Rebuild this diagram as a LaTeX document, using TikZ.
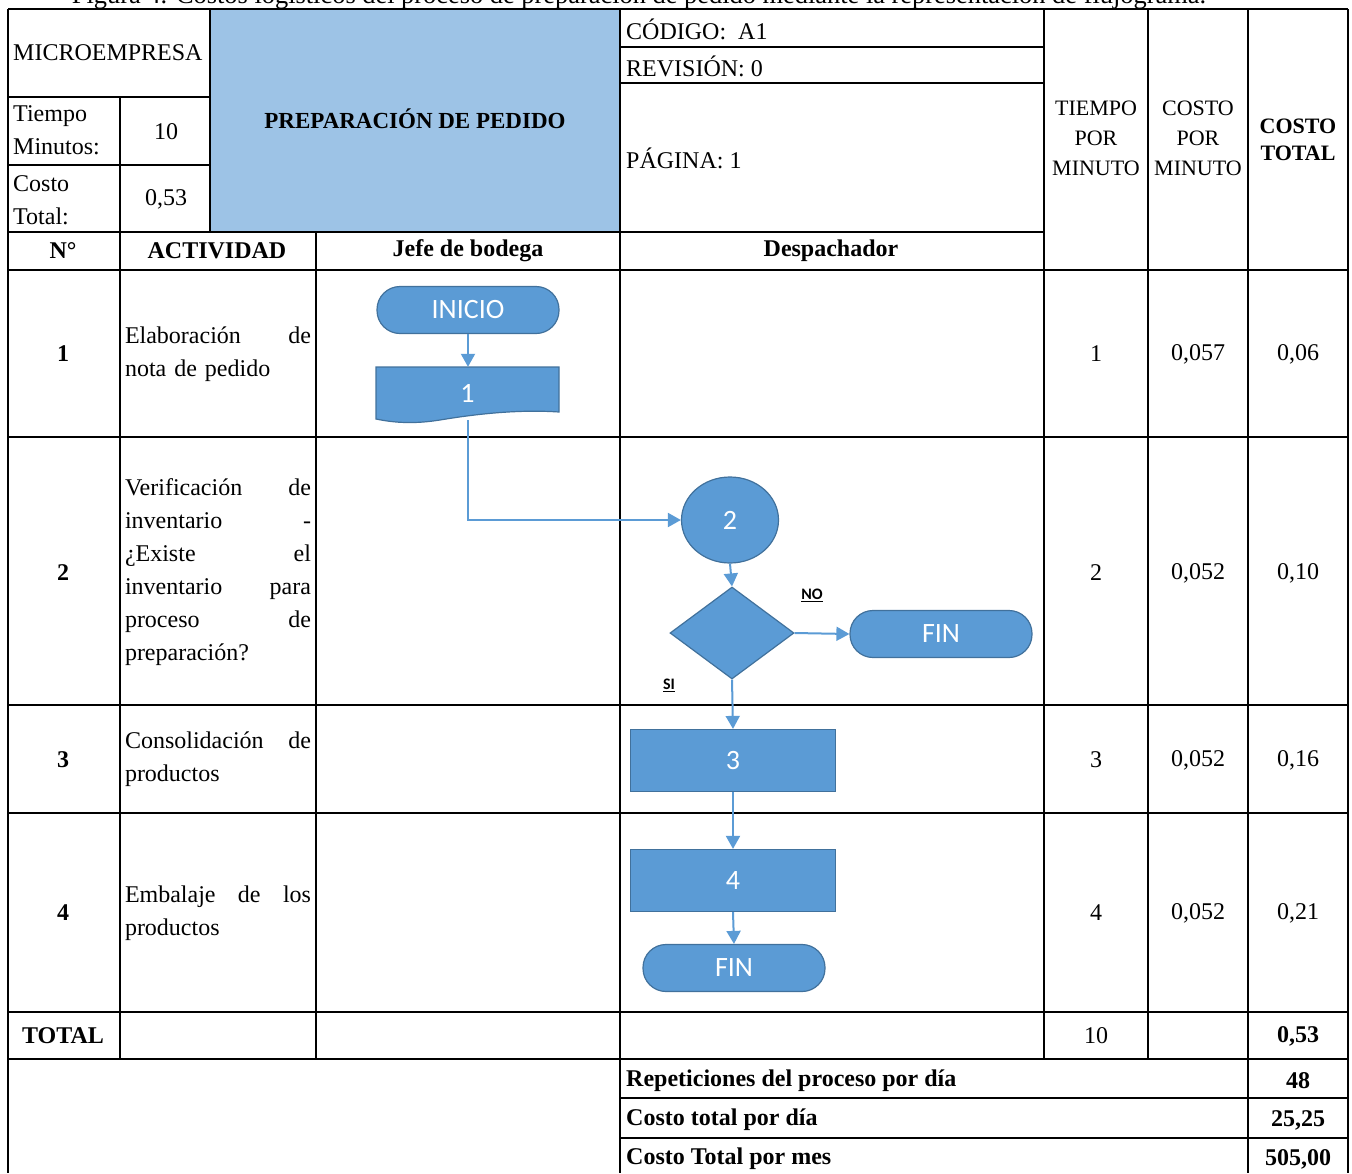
\documentclass[tikz,border=0pt]{standalone}
\usepackage{fontspec}
\setmainfont{Liberation Serif}
\newfontfamily\flowfont{Carlito}
\usetikzlibrary{arrows.meta,shapes.geometric}
\definecolor{flowblue}{HTML}{5B9BD5}
\definecolor{flowedge}{HTML}{41719C}
\definecolor{headblue}{HTML}{9DC3E6}
\tikzset{
  tabline/.style={line width=2.2pt,black},
  txt/.style={inner sep=0pt,font=\fontsize{24}{33}\selectfont},
  boldtxt/.style={inner sep=0pt,font=\fontsize{24}{33}\selectfont\bfseries},
  acttxt/.style={txt,text width=186pt,align=left},
  flowshape/.style={fill=flowblue,draw=flowedge,line width=1.2pt,text=white,
    font=\flowfont\fontsize{28}{30}\selectfont,inner sep=0pt},
  terminal/.style={flowshape,rounded corners=23pt,minimum width=182pt,minimum height=47pt},
  procbox/.style={flowshape,rectangle,minimum width=205pt,minimum height=62pt},
  flowline/.style={draw=flowblue,line width=2pt,-{Triangle[length=13pt,width=14pt]}},
  flowlabel/.style={inner sep=0pt,font=\flowfont\bfseries\fontsize{16}{18}\selectfont}
}
\begin{document}
\begin{tikzpicture}[x=1pt,y=-1pt]
\useasboundingbox (0,0) rectangle (1352,1173);
% caption, cut at the top edge
\node[txt,font=\fontsize{26.4}{30}\selectfont,anchor=base] (cap) at (639,3) {Figura 4. Costos logísticos del proceso de preparación de pedido mediante la representación de flujograma.};

% header block
\fill[headblue] (210,9) rectangle (620,232);
\draw[tabline] (8,9)--(1348,9) (8,9)--(8,1173) (1348,9)--(1348,1173);
\draw[tabline] (8,97)--(210,97) (8,165)--(210,165) (8,232)--(1044,232);
\draw[tabline] (620,47)--(1044,47) (620,83)--(1044,83);
\draw[tabline] (210,9)--(210,232) (120,97)--(120,1059) (316,232)--(316,1059);
\draw[tabline] (620,9)--(620,1173) (1044,9)--(1044,1059) (1148,9)--(1148,1059) (1248,9)--(1248,1173);
\draw[tabline] (8,270)--(1348,270) (8,437)--(1348,437) (8,705)--(1348,705);
\draw[tabline] (8,813)--(1348,813) (8,1012)--(1348,1012) (8,1059)--(1348,1059);
\draw[tabline] (620,1098)--(1348,1098) (620,1138)--(1348,1138);

\node[txt,anchor=west] (micro) at (13,53) {MICROEMPRESA};
\node[txt,anchor=west,align=left] (tmin) at (13,130) {Tiempo\\Minutos:};
\node[txt] (tval) at (166,132) {10};
\node[txt,anchor=west,align=left] (ctot) at (13,200) {Costo\\Total:};
\node[txt] (cval) at (166,199) {0,53};
\node[boldtxt,font=\fontsize{23}{30}\selectfont\bfseries] (title) at (415,119) {PREPARACIÓN DE PEDIDO};
\node[txt,anchor=west] (cod) at (626,29) {CÓDIGO:\ \ A1};
\node[txt,anchor=west] (rev) at (626,66) {REVISIÓN: 0};
\node[txt,anchor=west] (pag) at (626,158) {PÁGINA: 1};
\node[txt,font=\fontsize{22}{30}\selectfont,align=center] (htiempo) at (1096,138) {TIEMPO\\POR\\MINUTO};
\node[txt,font=\fontsize{22}{30}\selectfont,align=center] (hcosto) at (1198,138) {COSTO\\POR\\MINUTO};
\node[boldtxt,font=\fontsize{22}{27}\selectfont\bfseries,align=center] (htotal) at (1298,140) {COSTO\\TOTAL};

\node[boldtxt] (hnum) at (63,251) {N°};
\node[boldtxt] (hact) at (217,251) {ACTIVIDAD};
\node[boldtxt] (hjefe) at (468,251) {Jefe de bodega};
\node[boldtxt] (hdesp) at (831,251) {Despachador};

% rows
\node[boldtxt] (n1) at (63,354) {1};
\node[acttxt] (a1) at (218,354) {Elaboración \hfill de\\nota de pedido};
\node[txt] (t1) at (1096,354) {1};
\node[txt] (c1) at (1198,354) {0,057};
\node[txt] (s1) at (1298,354) {0,06};

\node[boldtxt] (n2) at (63,573) {2};
\node[acttxt] (a2) at (218,572) {Verificación \hfill de\\inventario \hfill -\\¿Existe \hfill el\\inventario \hfill para\\proceso \hfill de\\preparación?};
\node[txt] (t2) at (1096,573) {2};
\node[txt] (c2v) at (1198,573) {0,052};
\node[txt] (s2) at (1298,573) {0,10};

\node[boldtxt] (n3) at (63,760) {3};
\node[acttxt] (a3) at (218,759) {Consolidación \hfill de\\productos};
\node[txt] (t3) at (1096,760) {3};
\node[txt] (c3) at (1198,760) {0,052};
\node[txt] (s3) at (1298,760) {0,16};

\node[boldtxt] (n4) at (63,913) {4};
\node[acttxt] (a4) at (218,913) {Embalaje \hfill de \hfill los\\productos};
\node[txt] (t4) at (1096,913) {4};
\node[txt] (c4) at (1198,913) {0,052};
\node[txt] (s4) at (1298,913) {0,21};

\node[boldtxt] (ntot) at (63,1036) {TOTAL};
\node[txt] (ttot) at (1096,1036) {10};
\node[boldtxt] (stot) at (1298,1036) {0,53};

\node[boldtxt,anchor=west] (rep) at (626,1081) {Repeticiones del proceso por día};
\node[boldtxt] (repv) at (1298,1081) {48};
\node[boldtxt,anchor=west] (cdia) at (626,1120) {Costo total por día};
\node[boldtxt] (cdiav) at (1298,1120) {25,25};
\node[boldtxt,anchor=west] (cmes) at (626,1159) {Costo Total por mes};
\node[boldtxt] (cmesv) at (1298,1159) {505,00};

% flowchart
\node[terminal] (ini) at (468,310) {INICIO};
\draw[flowshape] (376,367)--(559,367)--(559,412) .. controls (515,409) and (470,415) .. (440,420)
  .. controls (415,424) and (395,423) .. (376,419)--cycle;
\node[inner sep=0pt,text=white,font=\flowfont\fontsize{28}{30}\selectfont,minimum width=183pt,minimum height=53pt] (d1) at (467.5,393.5) {1};
\node[flowshape,ellipse,minimum width=97pt,minimum height=86pt] (c2) at (730,520) {2};
\node[flowshape,diamond,aspect=1.35,minimum width=124pt,minimum height=92pt] (dec) at (732,633) {};
\node[terminal] (fin1) at (941,634) {FIN};
\node[procbox] (b3) at (733,760.5) {3};
\node[procbox] (b4) at (733,880.5) {4};
\node[terminal] (fin2) at (734,968) {FIN};
\node[flowlabel] (lno) at (812,595) {\underline{NO}};
\node[flowlabel] (lsi) at (669,685) {\underline{SI}};

\draw[flowline] (ini.south) -- (ini.south |- d1.north);
\draw[flowline] (d1.south) |- (c2.west);
\draw[flowline] (c2.south) -- (dec.north);
\draw[flowline] (dec.east) -- (fin1.west);
\draw[flowline] (dec.south) -- (b3.north);
\draw[flowline] (b3.south) -- (b4.north);
\draw[flowline] (b4.south) -- (fin2.north);
\end{tikzpicture}
\end{document}
